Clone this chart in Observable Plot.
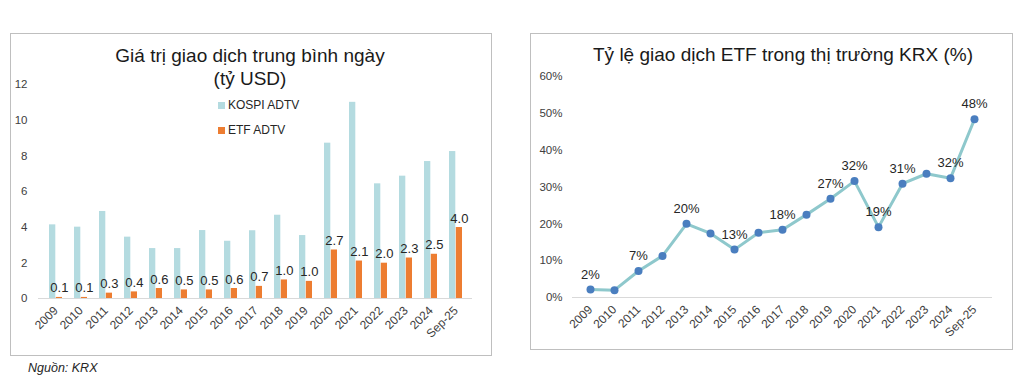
<!DOCTYPE html>
<html>
<head>
<meta charset="utf-8">
<script src="https://cdn.jsdelivr.net/npm/d3@7"></script>
<script src="https://cdn.jsdelivr.net/npm/@observablehq/plot@0.6"></script>
<style>
  html, body { margin:0; padding:0; background:#fff; }
  body { width:1034px; height:383px; position:relative; overflow:hidden; font-family:"Liberation Sans", Arial, sans-serif; color:#262626; }
  .panel { position:absolute; border:1px solid #bfbfbf; box-sizing:border-box; }
  .title { position:absolute; text-align:center; font-size:19px; line-height:23px; color:#1a1a1a; }
  .chart { position:absolute; }
  .leg { position:absolute; font-size:12px; color:#262626; display:flex; align-items:center; }
  .leg span.sw { display:inline-block; width:7px; height:7px; margin-right:3px; }
  .src { position:absolute; left:28px; top:361px; font-size:12.5px; font-style:italic; color:#262626; }
</style>
</head>
<body>
<div class="panel" style="left:10px; top:33px; width:482px; height:323px;"></div>
<div class="panel" style="left:530px; top:33px; width:483px; height:317px;"></div>
<div class="title" style="left:10px; top:44px; width:480px;">Giá trị giao dịch trung bình ngày<br>(tỷ USD)</div>
<div class="title" style="left:530px; top:43px; width:506px;">Tỷ lệ giao dịch ETF trong thị trường KRX (%)</div>
<div id="left" class="chart" style="left:10px; top:40px;"></div>
<div id="right" class="chart" style="left:530px; top:40px;"></div>
<div class="leg" style="left:218px; top:98px;"><span class="sw" style="background:#b4dbe0"></span>KOSPI ADTV</div>
<div class="leg" style="left:218px; top:123px;"><span class="sw" style="background:#ed7d31"></span>ETF ADTV</div>
<div class="src">Nguồn: KRX</div>
<script>
// ---- data ----
const years = ["2009","2010","2011","2012","2013","2014","2015","2016","2017","2018","2019","2020","2021","2022","2023","2024","Sep-25"];
const kospiADTV = [4.13, 4.0, 4.88, 3.44, 2.8, 2.8, 3.81, 3.21, 3.8, 4.67, 3.53, 8.71, 11.0, 6.43, 6.86, 7.68, 8.24];
const etfADTV = [0.06, 0.06, 0.3, 0.37, 0.56, 0.48, 0.48, 0.56, 0.68, 1.04, 0.96, 2.72, 2.1, 1.98, 2.27, 2.48, 3.98];
const etfShare = [2.2, 2.0, 7.2, 11.3, 20.0, 17.4, 13.0, 17.6, 18.4, 22.5, 26.8, 31.6, 19.1, 30.9, 33.6, 32.4, 48.4];
const shareLabeledYears = ["2009","2011","2013","2015","2017","2019","2020","2021","2022","2024","Sep-25"];
const leftTicks = [0, 2, 4, 6, 8, 10, 12];
const rightTicks = [0, 10, 20, 30, 40, 50, 60];

const font = "'Liberation Sans', Arial, sans-serif";
const rows = years.map((y, i) => ({year: y, kospi: kospiADTV[i], etf: etfADTV[i], share: etfShare[i]}));

function styleTicks(svg) {
  // enlarge the rotated x tick labels slightly
  svg.querySelectorAll("g[aria-label='x-axis tick label'] text").forEach(t => t.setAttribute("font-size", "12"));
  return svg;
}

const left = Plot.plot({
  width: 480, height: 305,
  marginLeft: 28, marginRight: 18, marginTop: 44, marginBottom: 47,
  style: {fontFamily: font, fontSize: "11.5px", color: "#404040", background: "transparent"},
  x: {type: "band", domain: years, padding: 0, label: null, tickSize: 0, tickRotate: -45, tickPadding: 10},
  y: {domain: [0, 12], ticks: leftTicks, label: null, tickSize: 0, tickPadding: 11},
  marks: [
    Plot.barY(rows, {x: "year", y: "kospi", fill: "#b4dbe0", insetLeft: 6, insetRight: 12.7}),
    Plot.barY(rows, {x: "year", y: "etf", fill: "#ed7d31", insetLeft: 12.8, insetRight: 6}),
    Plot.ruleY([0], {stroke: "#d9d9d9"}),
    Plot.text(rows, {x: "year", y: "etf", text: d => d3.format(".1f")(d.etf), dx: 3.4, dy: -5, lineAnchor: "bottom", fontSize: 13, fill: "#262626"})
  ]
});
document.getElementById("left").appendChild(styleTicks(left));

const labeled = rows.filter(d => shareLabeledYears.includes(d.year));
const right = Plot.plot({
  width: 482, height: 305,
  marginLeft: 42, marginRight: 20, marginTop: 36, marginBottom: 48,
  style: {fontFamily: font, fontSize: "11.5px", color: "#404040", background: "transparent"},
  x: {type: "point", domain: years, padding: 0.5, label: null, tickSize: 0, tickRotate: -45, tickPadding: 10},
  y: {domain: [0, 60], ticks: rightTicks, tickFormat: d => d + "%", label: null, tickSize: 0, tickPadding: 10},
  marks: [
    Plot.ruleY([0], {stroke: "#d9d9d9"}),
    Plot.line(rows, {x: "year", y: "share", stroke: "#8ec8cc", strokeWidth: 3}),
    Plot.dot(rows, {x: "year", y: "share", r: 4, fill: "#4a7ebf", stroke: "none"}),
    Plot.text(labeled, {x: "year", y: "share", text: d => Math.round(d.share) + "%", dy: -15, fontSize: 13, fill: "#262626"})
  ]
});
document.getElementById("right").appendChild(styleTicks(right));
</script>
</body>
</html>
